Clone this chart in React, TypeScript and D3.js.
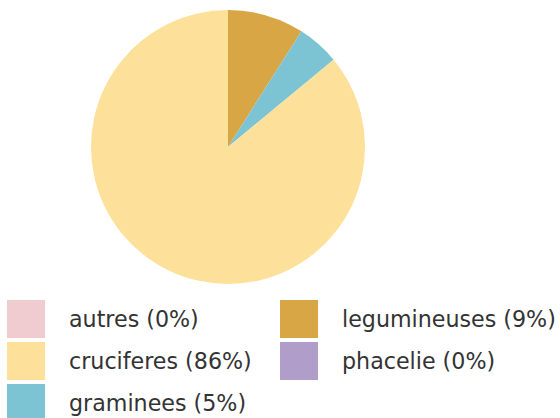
import React from "react";
import * as d3 from "d3";

const categories = ["autres", "cruciferes", "graminees", "legumineuses", "phacelie"];
const values = [0, 86, 5, 9, 0];
const colors = ["#f0cbcf", "#fde19b", "#7cc3d3", "#d9a645", "#b19dc9"];
const pieOrder = ["legumineuses", "graminees", "cruciferes", "autres", "phacelie"];

export default function App() {
  const W = 560, H = 418;
  const cx = 228, cy = 147, r = 137;
  const data = categories.map((c, i) => ({ name: c, value: values[i], color: colors[i] }));
  const ordered = pieOrder.map((n) => data.find((d) => d.name === n)!);
  const pie = d3.pie<any>().value((d) => d.value).sort(null);
  const arc = d3.arc<any>().innerRadius(0).outerRadius(r);
  const arcs = pie(ordered).filter((a) => a.value > 0);

  const col = d3.scaleOrdinal<number, number>().domain([0, 1]).range([7, 280]);
  const row = d3.scaleLinear().domain([0, 1]).range([300, 342]);

  return (
    <svg width={W} height={H} style={{ position: "absolute", left: 0, top: 0 }}>
      <rect width={W} height={H} fill="#ffffff" />
      <g transform={`translate(${cx},${cy})`}>
        {arcs.map((a, i) => (
          <path key={i} d={arc(a) as string} fill={a.data.color} />
        ))}
      </g>
      {data.map((d, i) => {
        const c = Math.floor(i / 3);
        const rIdx = i % 3;
        const x = col(c);
        const y = row(rIdx);
        return (
          <g key={d.name}>
            <rect x={x} y={y} width={38} height={38} fill={d.color} />
            <text
              x={x + 62}
              y={y + 27}
              fontFamily="DejaVu Sans, Verdana, sans-serif"
              fontSize={22.2}
              fill="#333333"
            >
              {`${d.name} (${d.value}%)`}
            </text>
          </g>
        );
      })}
    </svg>
  );
}
